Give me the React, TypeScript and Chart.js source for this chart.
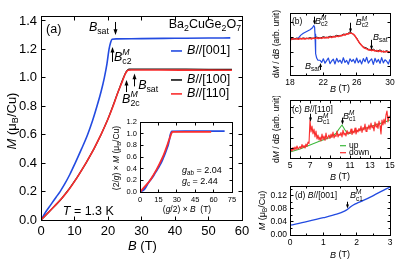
import React, { useEffect, useRef } from 'react';
import { Chart, registerables } from 'chart.js';

Chart.register(...registerables);

const FONT = "'Liberation Sans', Arial, Helvetica, sans-serif";
Chart.defaults.font.family = FONT;

const BLUE = 'rgb(35,75,225)';
const RED = 'rgb(250,45,45)';
const GREEN = 'rgb(60,185,60)';
const BLACK = '#111';

// ---------- Panel (a): M(B) at T = 1.3 K ----------
const A_X_TICKS = [0, 10, 20, 30, 40, 50, 60];
const A_Y_TICKS = [0, 0.2, 0.4, 0.6, 0.8, 1.0, 1.2, 1.4];
const A_B001_B = [0, 0.5, 1.5, 3, 4.5, 5.7, 7, 8.6, 10.2, 12.1, 13.9, 15.4, 16.7, 17.9, 18.9, 19.7, 20.3, 20.8, 21.2, 22.5, 30, 40, 50, 56.5];
const A_B001_M = [0, 0.02, 0.06, 0.11, 0.16, 0.2, 0.25, 0.32, 0.4, 0.5, 0.6, 0.7, 0.8, 0.9, 1.0, 1.1, 1.2, 1.25, 1.272, 1.274, 1.276, 1.278, 1.28, 1.281];
const A_B110_B = [0, 1, 2.5, 4.5, 6.3, 7.9, 10.8, 13.4, 15.8, 17.9, 19.8, 21.5, 23.0, 24.2, 25.0, 25.6, 26.0, 27, 35, 45, 57];
const A_B110_M = [0, 0.025, 0.06, 0.11, 0.155, 0.2, 0.3, 0.4, 0.5, 0.6, 0.7, 0.8, 0.9, 0.97, 1.02, 1.045, 1.053, 1.055, 1.055, 1.054, 1.053];
const A_B100_B = [0, 2.5, 6.3, 10.8, 15.8, 19.8, 23.0, 24.6, 25.5, 26.2, 30, 40, 50, 57];
const A_B100_M = [0, 0.06, 0.155, 0.3, 0.5, 0.7, 0.9, 1.0, 1.045, 1.062, 1.062, 1.061, 1.06, 1.06];

// ---------- Inset: scaled M vs scaled B ----------
const I_X_TICKS = [0, 15, 30, 45, 60, 75];
const I_Y_TICKS = [0, 0.2, 0.4, 0.6, 0.8, 1.0, 1.2];
const I_C_X = [0, 3.7, 7, 10.5, 12.4, 14.8, 17, 18.8, 20.4, 21.8, 23.1, 24.0, 24.8, 25.9, 36.6, 61, 69];
const I_C_Y = [0, 0.05, 0.164, 0.262, 0.328, 0.41, 0.49, 0.574, 0.656, 0.738, 0.82, 0.902, 0.984, 1.04, 1.042, 1.045, 1.045];
const I_AB_X = [0, 4.6, 8.1, 11, 13.7, 16.1, 18.3, 20.2, 21.9, 23.5, 24.7, 25.5, 26.5, 35, 50, 58];
const I_AB_Y = [0, 0.108, 0.196, 0.294, 0.392, 0.49, 0.588, 0.686, 0.784, 0.882, 0.951, 1.0, 1.03, 1.032, 1.03, 1.03];

// ---------- Panel (b): dM/dB 18-30 T ----------
const B_X_TICKS = [18, 22, 26, 30];
const B_X_MINOR = [20, 24, 28];
const B_Y_TICKS = [0, 1, 2, 3];
const B_GRID = [18, 18.2, 18.4, 18.6, 18.8, 19, 19.2, 19.4, 19.6, 19.8, 20, 20.2, 20.4, 20.6, 20.8, 21, 21.2, 21.4, 21.6, 21.8, 22, 22.2, 22.4, 22.6, 22.8, 23, 23.2, 23.4, 23.6, 23.8, 24, 24.2, 24.4, 24.6, 24.8, 25, 25.2, 25.4, 25.6, 25.8, 26, 26.2, 26.4, 26.6, 26.8, 27, 27.2, 27.4, 27.6, 27.8, 28, 28.2, 28.4, 28.6, 28.8, 29, 29.2, 29.4, 29.6, 29.8, 30];
const B_RED = [1.90, 1.86, 1.93, 1.88, 1.91, 1.87, 1.94, 1.89, 1.92, 1.88, 1.95, 1.90, 1.93, 1.89, 1.96, 1.91, 1.97, 1.92, 1.98, 1.93, 1.99, 1.95, 2.01, 1.96, 2.03, 1.99, 2.06, 2.02, 2.09, 2.05, 2.12, 2.10, 2.18, 2.15, 2.24, 2.22, 2.30, 2.27, 2.22, 2.10, 1.92, 1.75, 1.58, 1.45, 1.33, 1.26, 1.22, 1.15, 1.18, 1.10, 1.14, 1.07, 1.11, 1.04, 1.09, 1.02, 1.07, 1.00, 1.05, 0.98, 1.02];
const B_BLACK = [1.92, 1.88, 1.95, 1.90, 1.96, 1.91, 1.98, 1.92, 2.02, 1.94, 2.05, 1.97, 2.08, 2.03, 2.14, 2.08, 2.22, 2.20, 2.38, 2.20, 1.95, 1.55, 1.35, 1.28, 1.12, 1.20, 1.05, 1.15, 1.00, 1.10, 0.98];
const B_BLUE_RISE_B = [18.0, 18.4, 18.8, 19.0, 19.3, 19.6, 20.0, 20.4, 20.7, 20.85, 20.95, 21.0, 21.05, 21.1, 21.2, 21.35];
const B_BLUE_RISE = [1.90, 1.91, 1.93, 1.95, 2.15, 2.28, 2.40, 2.52, 2.65, 2.80, 2.70, 2.20, 1.40, 0.90, 0.60, 0.45];
const B_BLUE_FLAT = [0.45, 0.30, 0.55, 0.25, 0.42, 0.60, 0.22, 0.40, 0.52, 0.20, 0.58, 0.33, 0.46, 0.24, 0.62, 0.30, 0.44, 0.18, 0.55, 0.36, 0.50, 0.26, 0.60, 0.28, 0.47, 0.20, 0.56, 0.35, 0.65, 0.25, 0.42, 0.54, 0.17, 0.58, 0.32, 0.50, 0.24, 0.63, 0.27, 0.48, 0.38, 0.20, 0.52];

// ---------- Panel (c): dM/dB 5-15 T, B//[110] ----------
const C_X_TICKS = [5, 7, 9, 11, 13, 15];
const C_X_MINOR = [6, 8, 10, 12, 14];
const C_Y_TICKS = [1, 2, 3, 4, 5];
const C_GRID = [5, 5.1, 5.2, 5.3, 5.4, 5.5, 5.6, 5.7, 5.8, 5.9, 6, 6.1, 6.2, 6.3, 6.4, 6.5, 6.6, 6.7, 6.8, 6.9, 7, 7.1, 7.2, 7.3, 7.4, 7.5, 7.6, 7.7, 7.8, 7.9, 8, 8.1, 8.2, 8.3, 8.4, 8.5, 8.6, 8.7, 8.8, 8.9, 9, 9.1, 9.2, 9.3, 9.4, 9.5, 9.6, 9.7, 9.8, 9.9, 10, 10.1, 10.2, 10.3, 10.4, 10.5, 10.6, 10.7, 10.8, 10.9, 11, 11.1, 11.2, 11.3, 11.4, 11.5, 11.6, 11.7, 11.8, 11.9, 12, 12.1, 12.2, 12.3, 12.4, 12.5, 12.6, 12.7, 12.8, 12.9, 13, 13.1, 13.2, 13.3, 13.4, 13.5, 13.6, 13.7, 13.8, 13.9, 14, 14.1, 14.2, 14.3, 14.4, 14.5, 14.6, 14.7, 14.8, 14.9, 15];
const C_DOWN = [0.75, 0.95, 0.70, 1.05, 0.80, 1.10, 0.85, 1.20, 0.90, 1.00,
  1.15, 0.95, 1.35, 1.05, 1.25, 1.00, 1.40, 1.15, 1.60, 1.45,
  3.80, 2.60, 3.20, 2.40, 2.90, 2.10, 2.70, 1.90, 2.30, 1.80,
  2.10, 1.70, 2.40, 1.85, 2.20, 1.75, 2.50, 1.90, 2.10, 2.30,
  1.95, 2.40, 2.05, 2.60, 2.00, 2.30, 2.15, 2.70, 2.10, 2.40,
  2.25, 2.55, 2.10, 2.80, 2.30, 2.50, 2.20, 2.75, 2.40, 2.60,
  2.45, 2.90, 2.35, 2.70, 2.50, 3.00, 2.40, 2.80, 2.60, 2.95,
  2.70, 3.20, 2.55, 3.05, 2.80, 3.40, 2.65, 3.10, 2.90, 3.30,
  2.85, 3.50, 3.00, 3.25, 2.70, 3.60, 3.10, 3.45, 2.95, 3.70,
  3.20, 2.40, 3.80, 3.30, 3.90, 3.40, 4.30, 4.70, 3.60, 4.20,
  4.00];
const C_UP_B = [5, 6, 7, 8, 9, 9.6, 9.9, 10.2, 10.5, 10.8, 11.5, 12.5, 13.5, 14.5, 15];
const C_UP = [0.6, 0.9, 1.3, 1.7, 2.05, 2.45, 2.9, 3.3, 2.8, 2.4, 2.65, 2.95, 3.3, 3.6, 3.8];

// ---------- Panel (d): low-field M(B), B//[001] ----------
const D_X_TICKS = [0, 1, 2, 3];
const D_X_MINOR = [0.5, 1.5, 2.5];
const D_Y_TICKS = [0, 0.04, 0.08, 0.12];
const D_Y_MINOR = [0.02, 0.06, 0.10, 0.14];
const D_B = [0, 0.5, 1.0, 1.4, 1.65, 1.72, 1.8, 1.9, 2.0, 2.2, 2.5, 2.8, 3.0];
const D_M = [0.030, 0.041, 0.053, 0.064, 0.074, 0.078, 0.085, 0.092, 0.097, 0.106, 0.121, 0.137, 0.147];

// ---------- rich text ----------
type Seg = { t: string; i?: boolean; k?: 'sub' | 'sup' } | { sup: string; sub: string };
const fnt = (size: number, it: boolean) => `${it ? 'italic ' : ''}${size}px ${FONT}`;

function segW(ctx: CanvasRenderingContext2D, s: Seg, size: number) {
  const sm = size * 0.7;
  if ('sup' in s) {
    ctx.font = fnt(sm, true);
    const a = ctx.measureText(s.sup).width;
    ctx.font = fnt(sm, false);
    const b = ctx.measureText(s.sub).width;
    return Math.max(a, b);
  }
  ctx.font = fnt(s.k ? sm : size, !!s.i);
  return ctx.measureText(s.t).width;
}

function drawRich(ctx: CanvasRenderingContext2D, segs: Seg[], x: number, y: number, size: number, align: string, rot: number) {
  ctx.save();
  ctx.translate(x, y);
  if (rot) ctx.rotate(rot);
  let total = 0;
  for (const s of segs) total += segW(ctx, s, size);
  let cx = align === 'left' ? 0 : align === 'center' ? -total / 2 : -total;
  ctx.fillStyle = '#000';
  ctx.textBaseline = 'middle';
  ctx.textAlign = 'left';
  const sm = size * 0.7;
  for (const s of segs) {
    const w = segW(ctx, s, size);
    if ('sup' in s) {
      ctx.font = fnt(sm, true);
      ctx.fillText(s.sup, cx, -size * 0.42);
      ctx.font = fnt(sm, false);
      ctx.fillText(s.sub, cx, size * 0.33);
    } else {
      ctx.font = fnt(s.k ? sm : size, !!s.i);
      const dy = s.k === 'sub' ? size * 0.3 : s.k === 'sup' ? -size * 0.4 : 0;
      ctx.fillText(s.t, cx, dy);
    }
    cx += w;
  }
  ctx.restore();
}

const BI: Seg = { t: 'B', i: true };
const BSAT: Seg[] = [BI, { t: 'sat', k: 'sub' }];
const BC2M: Seg[] = [BI, { sup: 'M', sub: 'c2' }];
const B2CM: Seg[] = [BI, { sup: 'M', sub: '2c' }];
const BC1M: Seg[] = [BI, { sup: 'M', sub: 'c1' }];
const BT: Seg[] = [BI, { t: ' (T)' }];
const MUB: Seg[] = [{ t: 'M', i: true }, { t: ' (\u03bc' }, { t: 'B', k: 'sub' }, { t: '/Cu)' }];
const DMDB: Seg[] = [{ t: 'd' }, { t: 'M', i: true }, { t: ' / d' }, { t: 'B', i: true }, { t: ' (arb. unit)' }];

// ---------- spec types ----------
interface AxisSpec { min: number; max: number; ticks: number[]; minor?: number[]; labels: boolean; dec?: number; size: number; pad: number }
interface DS { xs: number[]; ys: number[]; color: string; w: number; smooth?: boolean }
interface Note { x: number; y: number; segs: Seg[]; size: number; align?: string }
interface Arrow { x: number; y1: number; y2: number }
interface Leg { x1: number; x2: number; y: number; color: string; w: number }
interface Title { segs: Seg[]; size: number; d: number; off: number }
interface Spec {
  L: number; T: number; W: number; H: number;
  area: { l: number; t: number; r: number; b: number };
  x: AxisSpec; y: AxisSpec; ds: DS[];
  tickLen: number; minorLen: number; ah: number;
  xTitle: Title; yTitle: Title;
  notes: Note[]; arrows: Arrow[]; legs: Leg[];
}

function decoPlugin(sp: Spec) {
  return {
    id: 'deco',
    afterDatasetsDraw(chart: any) {
      const ctx = chart.ctx as CanvasRenderingContext2D;
      const ca = chart.chartArea;
      const xs = chart.scales.x;
      const ys = chart.scales.y;
      const L = Math.floor(ca.left) + 0.5, R = Math.floor(ca.right) + 0.5;
      const T = Math.floor(ca.top) + 0.5, B = Math.floor(ca.bottom) + 0.5;
      ctx.save();
      ctx.strokeStyle = '#000';
      ctx.fillStyle = '#000';
      ctx.lineWidth = 1;
      ctx.strokeRect(L, T, R - L, B - T);
      const seg = (x1: number, y1: number, x2: number, y2: number) => {
        ctx.beginPath(); ctx.moveTo(x1, y1); ctx.lineTo(x2, y2); ctx.stroke();
      };
      const xt = (vals: number[] | undefined, len: number) => (vals || []).forEach((v) => {
        const p = Math.floor(xs.getPixelForValue(v)) + 0.5;
        seg(p, B, p, B - len); seg(p, T, p, T + len);
      });
      const yt = (vals: number[] | undefined, len: number) => (vals || []).forEach((v) => {
        const p = Math.floor(ys.getPixelForValue(v)) + 0.5;
        seg(L, p, L + len, p); seg(R, p, R - len, p);
      });
      xt(sp.x.ticks, sp.tickLen); xt(sp.x.minor, sp.minorLen);
      yt(sp.y.ticks, sp.tickLen); yt(sp.y.minor, sp.minorLen);
      // legend line samples
      for (const g of sp.legs) {
        ctx.strokeStyle = g.color; ctx.lineWidth = g.w;
        const py = ys.getPixelForValue(g.y);
        seg(xs.getPixelForValue(g.x1), py, xs.getPixelForValue(g.x2), py);
      }
      // arrows
      ctx.strokeStyle = '#000'; ctx.lineWidth = 1;
      for (const a of sp.arrows) {
        const px = Math.floor(xs.getPixelForValue(a.x)) + 0.5;
        const p1 = ys.getPixelForValue(a.y1), p2 = ys.getPixelForValue(a.y2);
        const dir = Math.sign(p2 - p1);
        seg(px, p1, px, p2 - dir * sp.ah);
        ctx.beginPath();
        ctx.moveTo(px, p2);
        ctx.lineTo(px - sp.ah * 0.5, p2 - dir * sp.ah * 1.4);
        ctx.lineTo(px + sp.ah * 0.5, p2 - dir * sp.ah * 1.4);
        ctx.closePath();
        ctx.fill();
      }
      // notes
      for (const n of sp.notes) {
        drawRich(ctx, n.segs, xs.getPixelForValue(n.x), ys.getPixelForValue(n.y), n.size, n.align || 'left', 0);
      }
      // axis titles
      drawRich(ctx, sp.xTitle.segs, (ca.left + ca.right) / 2 + sp.xTitle.off, ca.bottom + sp.xTitle.d, sp.xTitle.size, 'center', 0);
      drawRich(ctx, sp.yTitle.segs, ca.left - sp.yTitle.d, (ca.top + ca.bottom) / 2 + sp.yTitle.off, sp.yTitle.size, 'center', -Math.PI / 2);
      ctx.restore();
    },
  };
}

function axisOpts(a: AxisSpec, fit: (s: any) => void) {
  return {
    type: 'linear',
    min: a.min,
    max: a.max,
    bounds: 'data',
    afterBuildTicks: (s: any) => { s.ticks = a.ticks.map((v) => ({ value: v })); },
    afterFit: fit,
    grid: { display: false, drawTicks: false },
    border: { display: false },
    ticks: {
      display: a.labels,
      autoSkip: false,
      maxRotation: 0,
      minRotation: 0,
      padding: a.pad,
      color: '#000',
      font: { family: FONT, size: a.size },
      callback: (v: number) => (a.dec !== undefined ? Number(v).toFixed(a.dec) : String(v)),
    },
  };
}

function buildConfig(sp: Spec): any {
  return {
    type: 'line',
    data: {
      datasets: sp.ds.map((d) => ({
        data: d.xs.map((x, i) => ({ x, y: d.ys[i] })),
        borderColor: d.color,
        borderWidth: d.w,
        pointRadius: 0,
        fill: false,
        tension: 0,
        cubicInterpolationMode: d.smooth ? 'monotone' : 'default',
        borderJoinStyle: 'round',
      })),
    },
    options: {
      responsive: false,
      animation: false,
      devicePixelRatio: 1,
      events: [],
      layout: { padding: { left: 0, top: sp.area.t, right: sp.W - sp.area.r, bottom: 0 } },
      plugins: { legend: { display: false }, tooltip: { enabled: false }, title: { display: false } },
      scales: {
        x: axisOpts(sp.x, (s: any) => { s.height = sp.H - sp.area.b; }),
        y: axisOpts(sp.y, (s: any) => { s.width = sp.area.l; }),
      },
    },
    plugins: [decoPlugin(sp)],
  };
}

// ---------- panel specs (layout) ----------
const SPEC_A: Spec = {
  L: 0, T: 0, W: 262, H: 263,
  area: { l: 41, t: 16, r: 242, b: 220 },
  x: { min: 0, max: 60, ticks: A_X_TICKS, labels: true, size: 13, pad: 4 },
  y: { min: 0, max: 1.435, ticks: A_Y_TICKS, labels: true, dec: 1, size: 13, pad: 4 },
  ds: [
    { xs: A_B110_B, ys: A_B110_M, color: RED, w: 1.6, smooth: true },
    { xs: A_B100_B, ys: A_B100_M, color: BLACK, w: 1.3, smooth: true },
    { xs: A_B001_B, ys: A_B001_M, color: BLUE, w: 1.6, smooth: true },
  ],
  tickLen: 4, minorLen: 2, ah: 4,
  xTitle: { segs: BT, size: 13, d: 26, off: 1 },
  yTitle: { segs: MUB, size: 13, d: 29, off: 3 },
  notes: [
    { x: 1.5, y: 1.337, segs: [{ t: '(a)' }], size: 12.5 },
    { x: 14.3, y: 1.351, segs: BSAT, size: 12.5 },
    { x: 21.8, y: 1.14, segs: BC2M, size: 12.5 },
    { x: 29, y: 0.943, segs: BSAT, size: 12.5 },
    { x: 24.2, y: 0.845, segs: B2CM, size: 12.5 },
    { x: 6.5, y: 0.058, segs: [{ t: 'T', i: true }, { t: ' = 1.3 K' }], size: 12.5 },
    { x: 59.7, y: 1.372, segs: [{ t: 'Ba' }, { t: '2', k: 'sub' }, { t: 'CuGe' }, { t: '2', k: 'sub' }, { t: 'O' }, { t: '7', k: 'sub' }], size: 12.5, align: 'right' },
    { x: 43.6, y: 1.189, segs: [BI, { t: '//[001]' }], size: 12.5 },
    { x: 43.6, y: 0.985, segs: [BI, { t: '//[100]' }], size: 12.5 },
    { x: 43.6, y: 0.887, segs: [BI, { t: '//[110]' }], size: 12.5 },
  ],
  arrows: [
    { x: 22.1, y1: 1.393, y2: 1.302 },
    { x: 21.2, y1: 1.112, y2: 1.217 },
    { x: 28.0, y1: 0.94, y2: 1.03 },
    { x: 25.4, y1: 0.90, y2: 0.985 },
  ],
  legs: [
    { x1: 38.8, x2: 42.1, y: 1.189, color: BLUE, w: 1.6 },
    { x1: 38.8, x2: 42.1, y: 0.985, color: BLACK, w: 1.6 },
    { x1: 38.8, x2: 42.1, y: 0.887, color: RED, w: 1.6 },
  ],
};

const SPEC_I: Spec = {
  L: 100, T: 112, W: 140, H: 106,
  area: { l: 40, t: 10, r: 132, b: 80 },
  x: { min: 0, max: 75, ticks: I_X_TICKS, labels: true, size: 7.5, pad: 3 },
  y: { min: 0, max: 1.2, ticks: I_Y_TICKS, labels: true, dec: 1, size: 7.5, pad: 3 },
  ds: [
    { xs: I_AB_X, ys: I_AB_Y, color: RED, w: 1.8, smooth: true },
    { xs: I_C_X, ys: I_C_Y, color: BLUE, w: 1.8, smooth: true },
  ],
  tickLen: 3, minorLen: 2, ah: 3,
  xTitle: { segs: [{ t: '(' }, { t: 'g', i: true }, { t: '/2) \u00d7 ' }, BI, { t: '  (T)' }], size: 8.5, d: 18, off: 1 },
  yTitle: { segs: [{ t: '(2/' }, { t: 'g', i: true }, { t: ') \u00d7 ' }, { t: 'M', i: true }, { t: ' (\u03bc' }, { t: 'B', k: 'sub' }, { t: '/Cu)' }], size: 8.5, d: 23, off: 1 },
  notes: [
    { x: 34.2, y: 0.362, segs: [{ t: 'g', i: true }, { t: 'ab', k: 'sub' }, { t: ' = 2.04' }], size: 9 },
    { x: 34.2, y: 0.172, segs: [{ t: 'g', i: true }, { t: 'c', k: 'sub' }, { t: ' = 2.44' }], size: 9 },
  ],
  arrows: [],
  legs: [],
};

const SPEC_B: Spec = {
  L: 255, T: 0, W: 160, H: 96,
  area: { l: 35, t: 13, r: 135, b: 75 },
  x: { min: 18, max: 30, ticks: B_X_TICKS, minor: B_X_MINOR, labels: true, size: 8.5, pad: 3 },
  y: { min: -0.55, max: 3.65, ticks: B_Y_TICKS, labels: false, size: 8, pad: 3 },
  ds: [
    { xs: B_GRID, ys: B_RED, color: RED, w: 1.5 },
    { xs: B_GRID.filter((_, i) => i % 2 === 0), ys: B_BLACK, color: BLACK, w: 1 },
    { xs: B_BLUE_RISE_B.concat(B_GRID.slice(18)), ys: B_BLUE_RISE.concat(B_BLUE_FLAT), color: BLUE, w: 1.2 },
  ],
  tickLen: 3, minorLen: 2, ah: 3,
  xTitle: { segs: BT, size: 9, d: 14, off: 0 },
  yTitle: { segs: DMDB, size: 8.5, d: 13, off: 0 },
  notes: [
    { x: 18.24, y: 3.06, segs: [{ t: '(b)' }], size: 8.5 },
    { x: 21.0, y: 3.06, segs: BC2M, size: 9 },
    { x: 25.9, y: 2.99, segs: BC2M, size: 9 },
    { x: 27.96, y: 1.97, segs: BSAT, size: 9 },
    { x: 19.8, y: 0.0, segs: BSAT, size: 9 },
  ],
  arrows: [
    { x: 20.9, y1: 3.40, y2: 2.85 },
    { x: 25.3, y1: 2.99, y2: 2.31 },
    { x: 27.8, y1: 1.83, y2: 1.15 },
    { x: 21.6, y1: -0.21, y2: 0.27 },
  ],
  legs: [],
};

const SPEC_C: Spec = {
  L: 255, T: 96, W: 160, H: 90,
  area: { l: 35, t: 4, r: 135, b: 62 },
  x: { min: 5, max: 15, ticks: C_X_TICKS, minor: C_X_MINOR, labels: true, size: 8.5, pad: 3 },
  y: { min: 0, max: 5.8, ticks: C_Y_TICKS, labels: false, size: 8, pad: 3 },
  ds: [
    { xs: C_GRID, ys: C_DOWN, color: RED, w: 1.1 },
    { xs: C_UP_B, ys: C_UP, color: GREEN, w: 1.1 },
  ],
  tickLen: 3, minorLen: 2, ah: 3,
  xTitle: { segs: BT, size: 9, d: 19, off: 0 },
  yTitle: { segs: DMDB, size: 8.5, d: 13, off: 0 },
  notes: [
    { x: 5.2, y: 4.83, segs: [{ t: '(c) ' }, BI, { t: '//[110]' }], size: 8.5 },
    { x: 7.7, y: 3.83, segs: BC1M, size: 9 },
    { x: 10.3, y: 4.13, segs: BC1M, size: 9 },
    { x: 10.9, y: 1.23, segs: [{ t: 'up' }], size: 8.5 },
    { x: 10.9, y: 0.53, segs: [{ t: 'down' }], size: 8.5 },
  ],
  arrows: [
    { x: 7.0, y1: 4.43, y2: 3.63 },
    { x: 10.27, y1: 4.03, y2: 3.33 },
  ],
  legs: [
    { x1: 10.0, x2: 10.6, y: 1.23, color: GREEN, w: 1.2 },
    { x1: 10.0, x2: 10.6, y: 0.53, color: RED, w: 1.2 },
  ],
};

const SPEC_D: Spec = {
  L: 255, T: 178, W: 160, H: 85,
  area: { l: 35, t: 7, r: 135, b: 57 },
  x: { min: 0, max: 3, ticks: D_X_TICKS, minor: D_X_MINOR, labels: true, size: 8.5, pad: 3 },
  y: { min: 0, max: 0.15, ticks: D_Y_TICKS, minor: D_Y_MINOR, labels: true, dec: 2, size: 8.5, pad: 3 },
  ds: [{ xs: D_B, ys: D_M, color: BLUE, w: 1.3, smooth: true }],
  tickLen: 3, minorLen: 2, ah: 3,
  xTitle: { segs: BT, size: 9, d: 20, off: 0 },
  yTitle: { segs: MUB, size: 9, d: 27.5, off: 0 },
  notes: [
    { x: 0.15, y: 0.12, segs: [{ t: '(d) ' }, BI, { t: '//[001]' }], size: 8.5 },
    { x: 1.8, y: 0.12, segs: BC1M, size: 9 },
  ],
  arrows: [{ x: 1.73, y1: 0.102, y2: 0.081 }],
  legs: [],
};

const SPECS = [SPEC_A, SPEC_I, SPEC_B, SPEC_C, SPEC_D];

function Panel({ spec }: { spec: Spec }) {
  const ref = useRef<HTMLCanvasElement>(null);
  useEffect(() => {
    const chart = new Chart(ref.current as HTMLCanvasElement, buildConfig(spec));
    return () => chart.destroy();
  }, [spec]);
  return (
    <canvas
      ref={ref}
      width={spec.W}
      height={spec.H}
      style={{ position: 'absolute', left: spec.L, top: spec.T, width: spec.W, height: spec.H, display: 'block' }}
    />
  );
}

export default function App() {
  return (
    <div style={{ position: 'absolute', left: 0, top: 0, width: 415, height: 263, background: '#fff', overflow: 'hidden' }}>
      {SPECS.map((s, i) => (
        <Panel key={i} spec={s} />
      ))}
    </div>
  );
}
